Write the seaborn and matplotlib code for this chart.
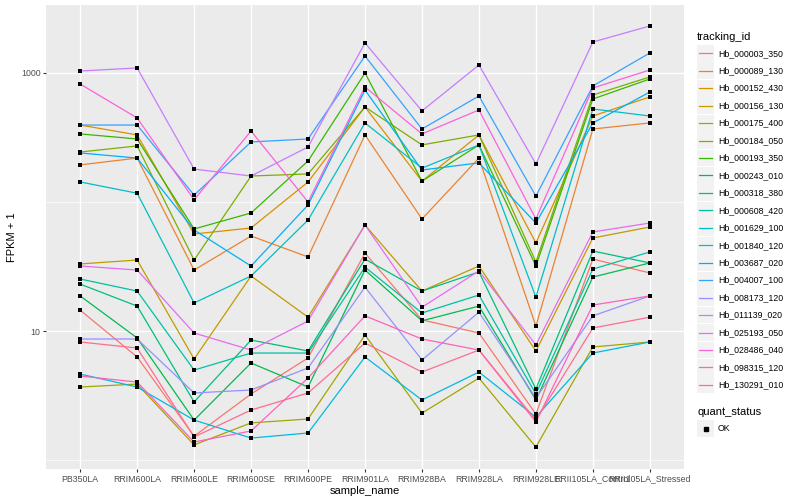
import numpy as np
import pandas as pd
import matplotlib
matplotlib.use("Agg")
import matplotlib.pyplot as plt
import seaborn as sns
from matplotlib.patches import Rectangle
from matplotlib.lines import Line2D
from matplotlib.ticker import FixedLocator, NullFormatter

#samples on the x axis, in plot order
samples = ["PB350LA", "RRIM600LA", "RRIM600LE", "RRIM600SE", "RRIM600PE", "RRIM901LA",
           "RRIM928BA", "RRIM928LA", "RRIM928LE", "RRII105LA_Control", "RRII105LA_Stressed"]

tracking_ids = ["Hb_000003_350", "Hb_000089_130", "Hb_000152_430", "Hb_000156_130",
                "Hb_000175_400", "Hb_000184_050", "Hb_000193_350", "Hb_000243_010",
                "Hb_000318_380", "Hb_000608_420", "Hb_001629_100", "Hb_001840_120",
                "Hb_003687_020", "Hb_004007_100", "Hb_008173_120", "Hb_011139_020",
                "Hb_025193_050", "Hb_028486_040", "Hb_098315_120", "Hb_130291_010"]

#FPKM + 1 (one value per sample)
hb_000003_350 = [14.5, 6.29, 1.53, 3.25, 6.18, 40.2, 12.2, 9.65, 2.27, 36.1, 28.2]
hb_000089_130 = [194, 219, 29.7, 54.5, 37.5, 331, 73.8, 219, 10.9, 368, 410]
hb_000152_430 = [395, 331, 56.5, 62.9, 143, 545, 145, 331, 48.1, 464, 652]
hb_000156_130 = [33.1, 35.5, 6.07, 26.7, 12.8, 66.3, 20.4, 31.9, 7.0, 52.6, 64.0]
hb_000175_400 = [3.68, 3.88, 1.31, 1.94, 2.08, 9.31, 2.31, 4.32, 1.26, 7.52, 8.22]
hb_000184_050 = [244, 272, 35.5, 159, 165, 545, 277, 331, 34.3, 675, 931]
hb_000193_350 = [337, 308, 61.8, 82.2, 208, 1000, 145, 277, 31.9, 629, 898]
hb_000243_010 = [18.7, 8.83, 2.04, 5.65, 3.68, 29.7, 12.0, 15.6, 2.92, 26.2, 33.7]
hb_000318_380 = [23.1, 15.6, 2.82, 8.51, 7.0, 36.1, 20.4, 28.7, 3.55, 41.7, 33.7]
hb_000608_420 = [25.3, 20.4, 4.98, 6.75, 6.75, 31.3, 13.8, 19.0, 3.25, 30.2, 41.0]
hb_001629_100 = [143, 117, 16.5, 26.7, 72.5, 410, 183, 277, 18.3, 526, 464]
hb_001840_120 = [4.64, 3.68, 2.04, 1.48, 1.62, 6.29, 2.92, 4.81, 2.15, 6.75, 8.22]
hb_003687_020 = [240, 219, 60.7, 31.9, 94.8, 738, 177, 201, 68.7, 410, 712]
hb_004007_100 = [395, 395, 113, 292, 308, 1354, 368, 663, 111, 793, 1429]
hb_008173_120 = [8.67, 8.67, 3.31, 3.49, 5.17, 21.9, 5.96, 14.0, 3.02, 13.1, 18.7]
hb_011139_020 = [1036, 1094, 180, 159, 267, 1709, 508, 1153, 197, 1739, 2314]
hb_025193_050 = [31.9, 29.7, 9.65, 7.12, 11.96, 66.3, 15.3, 29.2, 7.79, 58.6, 68.7]
hb_028486_040 = [821, 448, 104, 355, 100, 779, 337, 517, 73.8, 765, 1055]
hb_098315_120 = [4.48, 4.02, 1.38, 1.68, 4.32, 13.1, 8.67, 7.12, 1.97, 15.9, 18.7]
hb_130291_010 = [8.22, 7.38, 1.51, 2.44, 3.31, 8.07, 4.81, 7.12, 2.04, 10.55, 12.8]

values = [hb_000003_350, hb_000089_130, hb_000152_430, hb_000156_130, hb_000175_400,
          hb_000184_050, hb_000193_350, hb_000243_010, hb_000318_380, hb_000608_420,
          hb_001629_100, hb_001840_120, hb_003687_020, hb_004007_100, hb_008173_120,
          hb_011139_020, hb_025193_050, hb_028486_040, hb_098315_120, hb_130291_010]

#ggplot default hue palette for 20 levels
colors = ["#F8766D", "#EA8331", "#D89000", "#C09B00", "#A3A500", "#7CAE00", "#39B600",
          "#00BB4E", "#00BF7D", "#00C1A3", "#00BFC4", "#00BAE0", "#00B0F6", "#35A2FF",
          "#9590FF", "#C77CFF", "#E76BF3", "#FA62DB", "#FF62BC", "#FF6C91"]

rows = []
for tid, vals in zip(tracking_ids, values):
    for s, v in zip(samples, vals):
        rows.append((tid, s, v))
df = pd.DataFrame(rows, columns=["tracking_id", "sample_name", "fpkm"])
palette = dict(zip(tracking_ids, colors))

plt.rcParams['font.family'] = ['Liberation Sans', 'DejaVu Sans']

W, H = 800, 500
fig = plt.figure(figsize=(8, 5), dpi=100)
ax = fig.add_axes([46/W, 1-469/H, (684-46)/W, (469-5)/H])
ax.set_facecolor("#EBEBEB")
ax.set_yscale("log")

sns.lineplot(data=df, x="sample_name", y="fpkm", hue="tracking_id", hue_order=tracking_ids,
             palette=palette, estimator=None, sort=False, lw=0.9, legend=False, ax=ax)
sns.scatterplot(data=df, x="sample_name", y="fpkm", color="black", marker="s", s=8,
                linewidth=0, legend=False, ax=ax, zorder=3)

ax.set_xlim(-0.6, 10.6)
ax.set_ylim(0.852, 3365)
ax.set_yticks([10, 1000])
ax.set_yticklabels(["10", "1000"])
ax.yaxis.set_minor_locator(FixedLocator([1, 100]))
ax.yaxis.set_minor_formatter(NullFormatter())
ax.grid(which="major", color="white", lw=1.0)
ax.grid(which="minor", axis="y", color="white", lw=0.5)
ax.set_axisbelow(True)
for sp in ax.spines.values():
    sp.set_visible(False)
ax.tick_params(which="major", length=2, width=0.8, color="#333333", labelcolor="#4D4D4D",
               labelsize=6.3, pad=2)
ax.tick_params(which="minor", length=0)
ax.set_xlabel("sample_name", fontsize=8, labelpad=2)
ax.set_ylabel("FPKM + 1", fontsize=8, labelpad=3)

#legend, ggplot style
def fx(x):
    return x / W
def fy(y):
    return 1 - y / H

fig.text(fx(697), fy(37), "tracking_id", fontsize=8, va="center", ha="left")
for i, (tid, c) in enumerate(zip(tracking_ids, colors)):
    yc = 53.3 + 17.45 * i
    fig.patches.append(Rectangle((fx(697), fy(yc + 8.4)), 17/W, 16.8/H, transform=fig.transFigure,
                                 facecolor="#F2F2F2", edgecolor="none"))
    fig.lines.append(Line2D([fx(699), fx(712)], [fy(yc), fy(yc)], transform=fig.transFigure,
                            color=c, lw=0.9))
    fig.text(fx(718), fy(yc), tid, fontsize=6.3, va="center", ha="left")

fig.text(fx(697), fy(412), "quant_status", fontsize=8, va="center", ha="left")
fig.patches.append(Rectangle((fx(697), fy(428.5 + 8.4)), 17/W, 16.8/H, transform=fig.transFigure,
                             facecolor="#F2F2F2", edgecolor="none"))
fig.lines.append(Line2D([fx(705.5)], [fy(428.5)], transform=fig.transFigure, marker="s",
                        markersize=2.8, color="black", lw=0))
fig.text(fx(718), fy(428.5), "OK", fontsize=6.3, va="center", ha="left")

fig.savefig("out.png", dpi=100)
